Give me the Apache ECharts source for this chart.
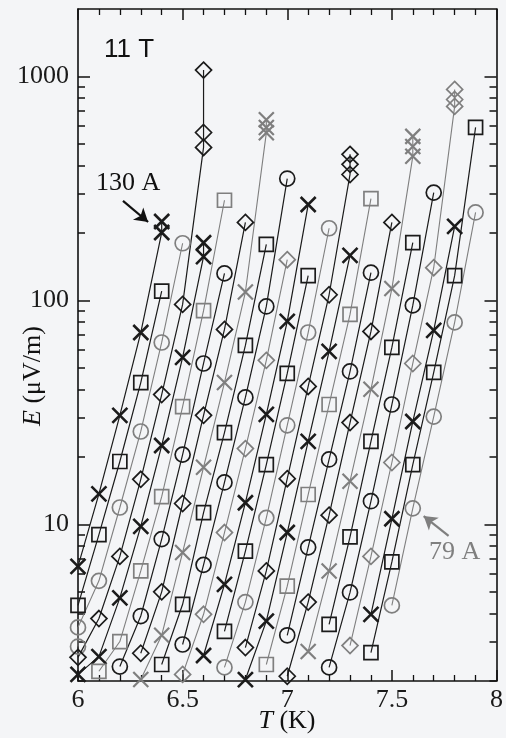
<!DOCTYPE html>
<html>
<head>
<meta charset="utf-8">
<script src="https://cdn.jsdelivr.net/npm/echarts@6/dist/echarts.min.js"></script>
<style>
  html, body { margin: 0; padding: 0; background: #f4f5f7; }
  #chart { width: 506px; height: 738px; }
</style>
</head>
<body>
<div id="chart"></div>
<script>
// E(T) sweeps at 11 T, one run per transport current (130 A on the left ... 79 A on the right).
// Each entry: [T in K, E in uV/m]
const run01 = [[6.0, 6.5], [6.1, 13.7], [6.2, 30.7], [6.3, 71.9], [6.4, 201], [6.4, 225]];
const run02 = [[6.0, 4.35], [6.1, 9.0], [6.2, 19.1], [6.3, 43.0], [6.4, 110]];
const run03 = [[6.0, 2.85], [6.0, 3.47], [6.1, 5.6], [6.2, 11.9], [6.3, 26.0], [6.4, 64.9], [6.5, 180]];
const run04 = [[6.0, 2.55], [6.1, 3.8], [6.2, 7.2], [6.3, 15.9], [6.4, 38.0], [6.5, 96], [6.6, 482], [6.6, 562], [6.6, 1067]];
const run05 = [[6.0, 2.14], [6.1, 2.57], [6.2, 4.7], [6.3, 9.8], [6.4, 22.5], [6.5, 55.7], [6.6, 157], [6.6, 181]];
const run06 = [[6.1, 2.21], [6.2, 3.0], [6.3, 6.2], [6.4, 13.3], [6.5, 33.6], [6.6, 90], [6.7, 280]];
const run07 = [[6.2, 2.32], [6.3, 3.9], [6.4, 8.6], [6.5, 20.5], [6.6, 52.3], [6.7, 132]];
const run08 = [[6.3, 2.66], [6.4, 5.0], [6.5, 12.4], [6.6, 30.7], [6.7, 74.2], [6.8, 223]];
const run09 = [[6.3, 2.03], [6.4, 3.2], [6.5, 7.5], [6.6, 18.0], [6.7, 43.0], [6.8, 109], [6.9, 560], [6.9, 592], [6.9, 640]];
const run10 = [[6.4, 2.37], [6.5, 4.4], [6.6, 11.3], [6.7, 25.7], [6.8, 63], [6.9, 178]];
const run11 = [[6.5, 2.91], [6.6, 6.6], [6.7, 15.4], [6.8, 36.9], [6.9, 94], [7.0, 350]];
const run12 = [[6.5, 2.14], [6.6, 3.97], [6.7, 9.2], [6.8, 21.8], [6.9, 54.0], [7.0, 152]];
const run13 = [[6.6, 2.60], [6.7, 5.4], [6.8, 12.5], [6.9, 31.0], [7.0, 80.6], [7.1, 268]];
const run14 = [[6.7, 3.33], [6.8, 7.6], [6.9, 18.5], [7.0, 47.2], [7.1, 129]];
const run15 = [[6.7, 2.30], [6.8, 4.5], [6.9, 10.7], [7.0, 27.7], [7.1, 71.9], [7.2, 210]];
const run16 = [[6.8, 2.82], [6.9, 6.2], [7.0, 16.0], [7.1, 41.3], [7.2, 106], [7.3, 365], [7.3, 405], [7.3, 449]];
const run17 = [[6.8, 2.03], [6.9, 3.7], [7.0, 9.2], [7.1, 23.5], [7.2, 59.2], [7.3, 159]];
const run18 = [[6.9, 2.37], [7.0, 5.3], [7.1, 13.6], [7.2, 34.3], [7.3, 86.6], [7.4, 285]];
const run19 = [[7.0, 3.2], [7.1, 7.9], [7.2, 19.5], [7.3, 48.2], [7.4, 133]];
const run20 = [[7.0, 2.10], [7.1, 4.5], [7.2, 11.0], [7.3, 28.5], [7.4, 72.7], [7.5, 223]];
const run21 = [[7.1, 2.71], [7.2, 6.2], [7.3, 15.6], [7.4, 40.1], [7.5, 113], [7.6, 440], [7.6, 487], [7.6, 540]];
const run22 = [[7.2, 3.58], [7.3, 8.8], [7.4, 23.5], [7.5, 61.7], [7.6, 181]];
const run23 = [[7.2, 2.30], [7.3, 4.97], [7.4, 12.7], [7.5, 34.3], [7.6, 95], [7.7, 303]];
const run24 = [[7.3, 2.88], [7.4, 7.2], [7.5, 18.9], [7.6, 52.3], [7.7, 140], [7.8, 735], [7.8, 789], [7.8, 875]];
const run25 = [[7.4, 3.97], [7.5, 10.6], [7.6, 28.8], [7.7, 73.5], [7.8, 214]];
const run26 = [[7.4, 2.68], [7.5, 6.8], [7.6, 18.5], [7.7, 47.7], [7.8, 129], [7.9, 592]];
const run27 = [[7.5, 4.35], [7.6, 11.8], [7.7, 30.3], [7.8, 79.8], [7.9, 247]];

const runs = [run01, run02, run03, run04, run05, run06, run07, run08, run09,
              run10, run11, run12, run13, run14, run15, run16, run17, run18,
              run19, run20, run21, run22, run23, run24, run25, run26, run27];

// Axis ticks
const xTickLabels = [6, 6.5, 7, 7.5, 8];
const yMajorTicks = [10, 100, 1000];
const yMinorTicks = [2, 3, 4, 5, 6, 7, 8, 9, 20, 30, 40, 50, 60, 70, 80, 90,
                     200, 300, 400, 500, 600, 700, 800, 900];

// Marker shape / ink per run (shapes cycle x, square, circle, diamond; every third run is grey)
const shapeCycle = ['cross', 'square', 'circle', 'diamond'];
const inkCycle = ['dark', 'dark', 'grey'];

const INK = { dark: '#1b1b1b', grey: '#7f7f7f' };
const SYMBOL = {
  cross: { symbol: 'path://M0,0L10,10M10,0L0,10', size: 15 },
  square: { symbol: 'rect', size: 14 },
  circle: { symbol: 'circle', size: 15 },
  diamond: { symbol: 'diamond', size: 16 }
};
const SERIF = 'Liberation Serif, Times New Roman, serif';

const series = runs.map(function (pts, i) {
  const shape = shapeCycle[i % shapeCycle.length];
  const ink = INK[inkCycle[i % inkCycle.length]];
  const sym = SYMBOL[shape];
  return {
    type: 'line',
    name: 'run' + (i + 1),
    data: pts,
    xAxisIndex: 0,
    yAxisIndex: 0,
    showSymbol: true,
    showAllSymbol: true,
    symbol: sym.symbol,
    symbolSize: sym.size,
    clip: false,
    animation: false,
    lineStyle: { color: ink, width: ink === INK.dark ? 1.2 : 1.1 },
    itemStyle: {
      color: 'rgba(0,0,0,0)',
      borderColor: ink,
      borderWidth: shape === 'cross' ? (ink === INK.dark ? 2.6 : 2.2) : 1.7
    },
    emphasis: { disabled: true },
    z: 3
  };
});

// Pointer arrows for the first and last run
series[0].markLine = {
  silent: true, animation: false,
  symbol: ['none', 'arrow'], symbolSize: [12, 13],
  label: { show: false },
  lineStyle: { color: '#111', width: 2.2, type: 'solid' },
  data: [[{ coord: [6.215, 278] }, { coord: [6.335, 224] }]]
};
series[26].markLine = {
  silent: true, animation: false,
  symbol: ['none', 'arrow'], symbolSize: [12, 13],
  label: { show: false },
  lineStyle: { color: '#7f7f7f', width: 2.2, type: 'solid' },
  data: [[{ coord: [7.771, 8.9] }, { coord: [7.652, 10.9] }]]
};

const axisLine = { show: true, lineStyle: { color: '#111', width: 1.6 } };

function xAxisDef(pos, withLabels) {
  return {
    type: 'value', position: pos, min: 6, max: 8, interval: 0.5,
    axisLine: axisLine,
    axisTick: { show: true, inside: true, length: 11, lineStyle: { color: '#111', width: 1.5 } },
    minorTick: { show: true, splitNumber: 5, length: 6, lineStyle: { color: '#111', width: 1.3 } },
    splitLine: { show: false },
    minorSplitLine: { show: false },
    axisLabel: {
      show: withLabels, margin: 6, color: '#1a1a1a', fontFamily: SERIF, fontSize: 26,
      customValues: xTickLabels,
      formatter: function (v) { return String(v); }
    }
  };
}

function yAxisDef(pos, ticks, len, withLabels, withLine) {
  return {
    type: 'log', logBase: 10, position: pos, min: 2, max: 2000,
    axisLine: withLine ? axisLine : { show: false },
    axisTick: { show: true, inside: true, length: len, customValues: ticks,
                lineStyle: { color: '#111', width: 1.5 } },
    splitLine: { show: false },
    axisLabel: {
      show: withLabels, margin: 9, color: '#1a1a1a', fontFamily: SERIF, fontSize: 26,
      customValues: withLabels ? yMajorTicks : undefined,
      formatter: function (v) { return String(Math.round(v)); }
    }
  };
}

const chart = echarts.init(document.getElementById('chart'), null, { renderer: 'canvas' });
chart.setOption({
  backgroundColor: '#f4f5f7',
  animation: false,
  grid: { left: 78, right: 8, top: 9, bottom: 57, containLabel: false },
  xAxis: [xAxisDef('bottom', true), xAxisDef('top', false)],
  yAxis: [
    yAxisDef('left', yMajorTicks, 12, true, true),
    yAxisDef('left', yMinorTicks, 7, false, false),
    yAxisDef('right', yMajorTicks, 12, false, true),
    yAxisDef('right', yMinorTicks, 7, false, false)
  ],
  series: series,
  graphic: [
    { type: 'text', left: 104, top: 37, silent: true,
      style: { text: '11 T', fill: '#111', font: '26px "Liberation Sans", Arial, sans-serif' } },
    { type: 'text', left: 96, top: 170, silent: true,
      style: { text: '130 A', fill: '#111', font: '26px "Liberation Serif", "Times New Roman", serif' } },
    { type: 'text', left: 429, top: 539, silent: true,
      style: { text: '79 A', fill: '#7f7f7f', font: '26px "Liberation Serif", "Times New Roman", serif' } },
    { type: 'text', x: 33, y: 376, rotation: Math.PI / 2, silent: true,
      style: {
        text: '{i|E} (μV/m)', fill: '#111', align: 'center', verticalAlign: 'middle',
        font: '26px "Liberation Serif", "Times New Roman", serif',
        rich: { i: { fontStyle: 'italic', fontFamily: SERIF, fontSize: 26, fill: '#111' } }
      } },
    { type: 'text', x: 287, y: 721, silent: true,
      style: {
        text: '{i|T} (K)', fill: '#111', align: 'center', verticalAlign: 'middle',
        font: '26px "Liberation Serif", "Times New Roman", serif',
        rich: { i: { fontStyle: 'italic', fontFamily: SERIF, fontSize: 26, fill: '#111' } }
      } }
  ]
});
</script>
</body>
</html>
